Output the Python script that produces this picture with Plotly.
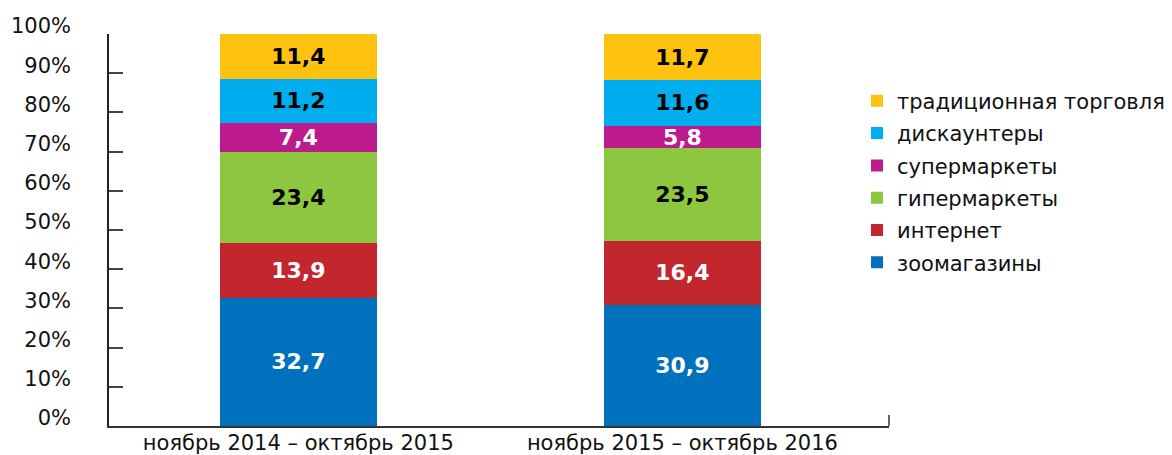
import plotly.graph_objects as go

periods = ["ноябрь 2014 – октябрь 2015", "ноябрь 2015 – октябрь 2016"]
channels = ["зоомагазины", "интернет", "гипермаркеты", "супермаркеты", "дискаунтеры", "традиционная торговля"]
zoo = [32.7, 30.9]
internet = [13.9, 16.4]
hyper = [23.4, 23.5]
super_ = [7.4, 5.8]
discount = [11.2, 11.6]
traditional = [11.4, 11.7]
y_ticks = [0, 10, 20, 30, 40, 50, 60, 70, 80, 90, 100]
y_tick_labels = [f"{t}%" for t in y_ticks]

series = [zoo, internet, hyper, super_, discount, traditional]
colors = ["#0071BC", "#C1272D", "#8DC63F", "#BD1A8D", "#00AEEF", "#FFC20E"]
text_colors = ["white", "white", "black", "white", "black", "black"]

FONT = "DejaVu Sans"

fig = go.Figure()
n = len(channels)
for i, (name, vals, col, tcol) in enumerate(zip(channels, series, colors, text_colors)):
    fig.add_trace(go.Bar(
        x=periods, y=vals, name=name, legendgroup=name,
        legendrank=1000 + (n - i),
        marker=dict(color=col, line=dict(width=0)),
        width=0.408,
        text=[f"{v:.1f}".replace(".", ",") for v in vals],
        textposition="inside", insidetextanchor="middle",
        constraintext="none",
        textfont=dict(family=FONT, size=22, color=tcol, weight="bold"),
        hoverinfo="skip",
    ))

fig.update_layout(
    barmode="stack",
    width=1172, height=455,
    margin=dict(l=101, r=291, t=26, b=37, autoexpand=False),
    plot_bgcolor="white", paper_bgcolor="white",
    font=dict(family=FONT, size=21, color="#111"),
    showlegend=True,
    legend=dict(
        x=0.959, xanchor="left", y=0.881, yanchor="top",
        traceorder="grouped", tracegroupgap=2,
        font=dict(family=FONT, size=21, color="#111"),
        bgcolor="rgba(0,0,0,0)",
    ),
    xaxis=dict(
        type="category", range=[-0.493, 1.538], automargin=False,
        showline=True, linecolor="#333", linewidth=1.5,
        ticks="", showgrid=False, zeroline=False,
        ticklabelstandoff=-3,
        tickfont=dict(family=FONT, size=21, color="#111"),
    ),
    yaxis=dict(
        range=[0, 100], tickmode="array", tickvals=y_ticks, ticktext=y_tick_labels,
        automargin=False,
        showline=True, linecolor="#222", linewidth=1.5,
        ticks="inside", ticklen=14, tickwidth=1.5, tickcolor="#444",
        showgrid=False, zeroline=False,
        ticklabelstandoff=32, ticklabelshift=-8,
        tickfont=dict(family=FONT, size=21, color="#111"),
    ),
)

fig.add_shape(type="line", xref="x domain", yref="y domain",
              x0=1, x1=1, ysizemode="pixel", yanchor=0, y0=0, y1=11,
              line=dict(color="#333", width=1.5))

fig.write_html("out.html")
